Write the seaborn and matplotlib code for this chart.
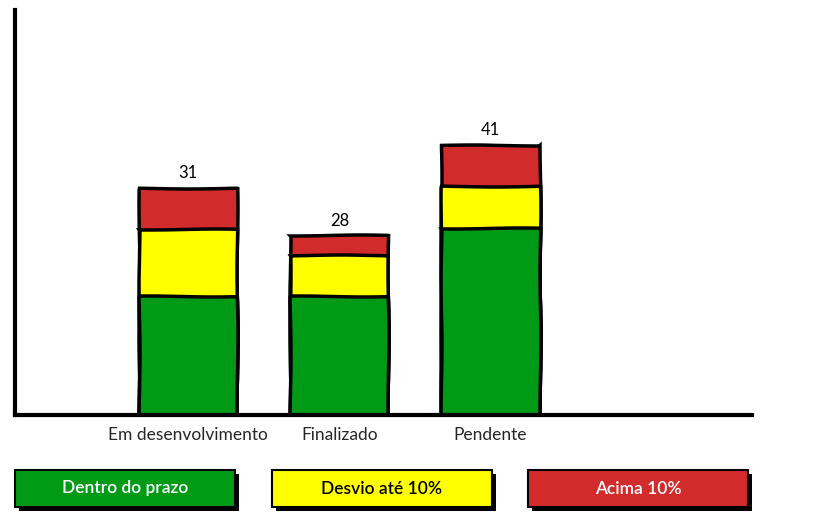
import matplotlib
matplotlib.use("Agg")
import matplotlib.pyplot as plt
import seaborn as sns
import numpy as np
import pandas as pd
from matplotlib.patches import Rectangle

categories = ["Em desenvolvimento", "Finalizado", "Pendente"]
series_names = ["Dentro do prazo", "Desvio até 10%", "Acima 10%"]
dentro = [18.1, 18.1, 28.4]
desvio = [10.2, 6.2, 6.4]
acima = [6.2, 3.0, 6.2]
totals = [31, 28, 41]

colors = ["#009A17", "#FFFF00", "#D22B2B"]
text_colors = ["white", "black", "white"]

sns.set_theme(style="white")
plt.rcParams["font.family"] = ["Lato", "DejaVu Sans"]

fig = plt.figure(figsize=(8.24, 5.30), dpi=100)
ax = fig.add_axes([15/824, 1-415/530, (752-15)/824, 405/530])

df = pd.DataFrame({"cat": categories, "g": dentro, "y": desvio, "r": acima})
df["gy"] = df["g"] + df["y"]
df["gyr"] = df["gy"] + df["r"]

for col, c in [("gyr", colors[2]), ("gy", colors[1]), ("g", colors[0])]:
    sns.barplot(data=df, x="cat", y=col, color=c, width=0.65, edgecolor="black",
                linewidth=2.5, saturation=1, ax=ax)

for p in ax.patches:
    p.set_sketch_params(0.5, 150, 2)

for i, (t, h) in enumerate(zip(totals, df["gyr"])):
    ax.text(i, h + 1.0, str(t), ha="center", va="bottom", fontsize=12, color="black")

ax.set_xlim(-1.146, 3.73)
ax.set_ylim(0, 61.5)
ax.set_xlabel("")
ax.set_ylabel("")
ax.set_yticks([])
ax.tick_params(axis="x", length=0, pad=9, labelsize=12.5)
for s in ["top", "right"]:
    ax.spines[s].set_visible(False)
for s in ["left", "bottom"]:
    ax.spines[s].set_linewidth(3)
    ax.spines[s].set_color("black")

# legend boxes
lx = [15, 272, 528]
lw = 220
ly0, ly1 = 470, 507
for x0, name, c, tc in zip(lx, series_names, colors, text_colors):
    shadow = Rectangle((x0 + 4, 530 - ly1 - 4), lw, ly1 - ly0, transform=None,
                       facecolor="black", edgecolor="black", lw=0)
    box = Rectangle((x0, 530 - ly1), lw, ly1 - ly0, transform=None,
                    facecolor=c, edgecolor="black", lw=1.5)
    fig.patches.extend([shadow, box])
    fig.text((x0 + lw/2)/824, 1 - (ly0 + ly1)/2/530, name, ha="center", va="center",
             color=tc, fontsize=12.5, fontweight="semibold")

fig.savefig("out.png", dpi=100, facecolor="white")
